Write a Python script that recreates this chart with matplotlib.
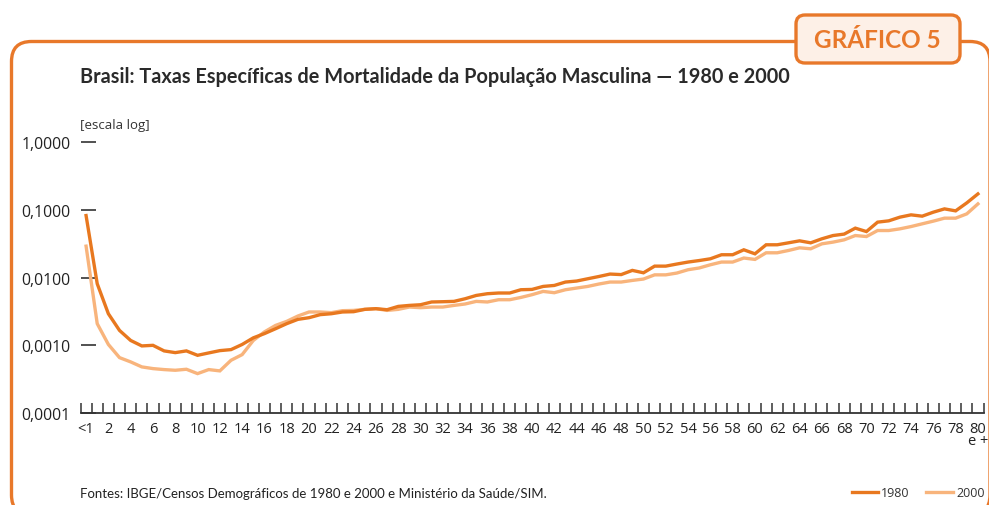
import matplotlib
matplotlib.use("Agg")
import matplotlib.pyplot as plt
from matplotlib.patches import FancyBboxPatch
from matplotlib.lines import Line2D

ages = list(range(0, 81))
rate_1980 = [0.0827, 0.00813, 0.00293, 0.00166, 0.00118, 0.00098, 0.00100, 0.000827, 0.000780, 0.000827,
             0.000712, 0.000772, 0.000835, 0.000864, 0.00103, 0.00129, 0.00149, 0.00176, 0.00209, 0.00242,
             0.00256, 0.00284, 0.00293, 0.00311, 0.00314, 0.00340, 0.00348, 0.00336, 0.00376, 0.00389,
             0.00398, 0.00437, 0.00441, 0.00446, 0.00488, 0.00546, 0.00579, 0.00593, 0.00593, 0.00663,
             0.00670, 0.00742, 0.00767, 0.00861, 0.00891, 0.00963, 0.0104, 0.0113, 0.0111, 0.0128,
             0.0118, 0.0148, 0.0148, 0.0159, 0.0170, 0.0179, 0.0190, 0.0218, 0.0218, 0.0258,
             0.0225, 0.0306, 0.0306, 0.0327, 0.0350, 0.0327, 0.0375, 0.0419, 0.0440, 0.0539,
             0.0480, 0.0661, 0.0691, 0.0783, 0.0847, 0.0810, 0.0928, 0.1038, 0.0970, 0.1273,
             0.1728]
rate_2000 = [0.0292, 0.00209, 0.00103, 0.000658, 0.000569, 0.000480, 0.000453, 0.000438, 0.000428, 0.000443,
             0.000382, 0.000438, 0.000419, 0.000601, 0.000729, 0.00118, 0.00158, 0.00197, 0.00226, 0.00271,
             0.00311, 0.00311, 0.00304, 0.00325, 0.00328, 0.00340, 0.00348, 0.00328, 0.00340, 0.00368,
             0.00360, 0.00368, 0.00368, 0.00389, 0.00408, 0.00446, 0.00437, 0.00472, 0.00472, 0.00510,
             0.00560, 0.00626, 0.00599, 0.00663, 0.00702, 0.00742, 0.00805, 0.00861, 0.00861, 0.00910,
             0.00954, 0.0110, 0.0110, 0.0117, 0.0131, 0.0139, 0.0155, 0.0170, 0.0170, 0.0195,
             0.0186, 0.0233, 0.0233, 0.0252, 0.0276, 0.0267, 0.0316, 0.0335, 0.0362, 0.0419,
             0.0405, 0.0497, 0.0497, 0.0526, 0.0569, 0.0624, 0.0684, 0.0757, 0.0757, 0.0876,
             0.1230]
x_label_ages = list(range(0, 81, 2))
x_labels = ["<1"] + [str(a) for a in range(2, 80, 2)] + ["80\ne +"]
y_ticks = [0.0001, 0.001, 0.01, 0.1, 1.0]
y_labels = ["0,0001", "0,0010", "0,0100", "0,1000", "1,0000"]
series_names = ["1980", "2000"]

title = "Brasil: Taxas Específicas de Mortalidade da População Masculina — 1980 e 2000"
footer = "Fontes: IBGE/Censos Demográficos de 1980 e 2000 e Ministério da Saúde/SIM."

ORANGE = "#E8782A"
C1980 = "#E8781F"
C2000 = "#F8B47C"
DARK = "#333333"
NARROW = ["Lato", "DejaVu Sans"]
TICKF = ["Open Sans", "DejaVu Sans"]

W, H = 989, 506
fig = plt.figure(figsize=(W / 100, H / 100), dpi=100)

# overlay in pixel coordinates (y measured from top, converted)
ov = fig.add_axes([0, 0, 1, 1])
ov.set_xlim(0, W)
ov.set_ylim(0, H)
ov.axis("off")


def Y(y):
    return H - y


frame = FancyBboxPatch((11.5, Y(516)), 990 - 11.5, 516 - 42.5,
                       boxstyle="round,pad=0,rounding_size=20",
                       facecolor="none", edgecolor=ORANGE, lw=2.4, zorder=1)
frame.set_clip_on(False)
ov.add_patch(frame)
badge = FancyBboxPatch((796, Y(64)), 164, 48,
                       boxstyle="round,pad=0,rounding_size=9",
                       facecolor="#FDF0E7", edgecolor=ORANGE, lw=2.4, zorder=2)
badge.set_clip_on(False)
ov.add_patch(badge)
ov.text(877, Y(40), "GRÁFICO 5", ha="center", va="center", color=ORANGE,
        fontsize=17.5, fontweight="bold", family=NARROW, zorder=3)
ov.text(80, Y(77), title, ha="left", va="center", color="#2a2a2a",
        fontsize=14.3, fontweight="bold", family=NARROW)
ov.text(80, Y(125), "[escala log]", ha="left", va="center", color=DARK,
        fontsize=9.5, family=TICKF)
ov.text(80, Y(494), footer, ha="left", va="center", color="#222222",
        fontsize=9.5, family=NARROW)
# legend
ov.add_line(Line2D([852, 878], [Y(493), Y(493)], color=C1980, lw=2.4))
ov.text(881, Y(494), series_names[0], ha="left", va="center", color=DARK, fontsize=9, family=TICKF)
ov.add_line(Line2D([926, 953], [Y(493), Y(493)], color=C2000, lw=2.4))
ov.text(956, Y(494), series_names[1], ha="left", va="center", color=DARK, fontsize=9, family=TICKF)

# main axes
left_px, right_px, bottom_px, top_px = 80.5, 983.5, 414, 143.3
ax = fig.add_axes([left_px / W, (H - bottom_px) / H, (right_px - left_px) / W, (bottom_px - top_px) / H])
ax.patch.set_alpha(0)
ax.plot(ages, rate_1980, color=C1980, lw=2.4, solid_joinstyle="miter", zorder=3)
ax.plot(ages, rate_2000, color=C2000, lw=2.4, solid_joinstyle="miter", zorder=2)
ax.set_yscale("log")
ax.set_ylim(1e-4, 1.0)
ax.set_xlim(-0.5, 80.5)
for s in ["top", "right", "left"]:
    ax.spines[s].set_visible(False)
ax.spines["bottom"].set_color(DARK)
ax.spines["bottom"].set_linewidth(1.3)

ax.set_yticks(y_ticks)
ax.set_yticklabels(y_labels, family=TICKF, fontsize=11.3, color="#222222")
ax.yaxis.set_minor_locator(matplotlib.ticker.NullLocator())
ax.tick_params(axis="y", which="major", direction="in", length=11, width=1.2, color=DARK, pad=7)

ax.set_xticks([a - 0.5 for a in range(0, 82)])
ax.set_xticklabels([])
ax.tick_params(axis="x", which="major", direction="in", length=7.5, width=1.1, color=DARK)
ax.set_xticks(x_label_ages, minor=True)
ax.set_xticklabels(x_labels, minor=True, family=TICKF, fontsize=10.5, color="#222222",
                   linespacing=0.72)
ax.tick_params(axis="x", which="minor", length=0, pad=6)

fig.savefig("out.png", dpi=100)
